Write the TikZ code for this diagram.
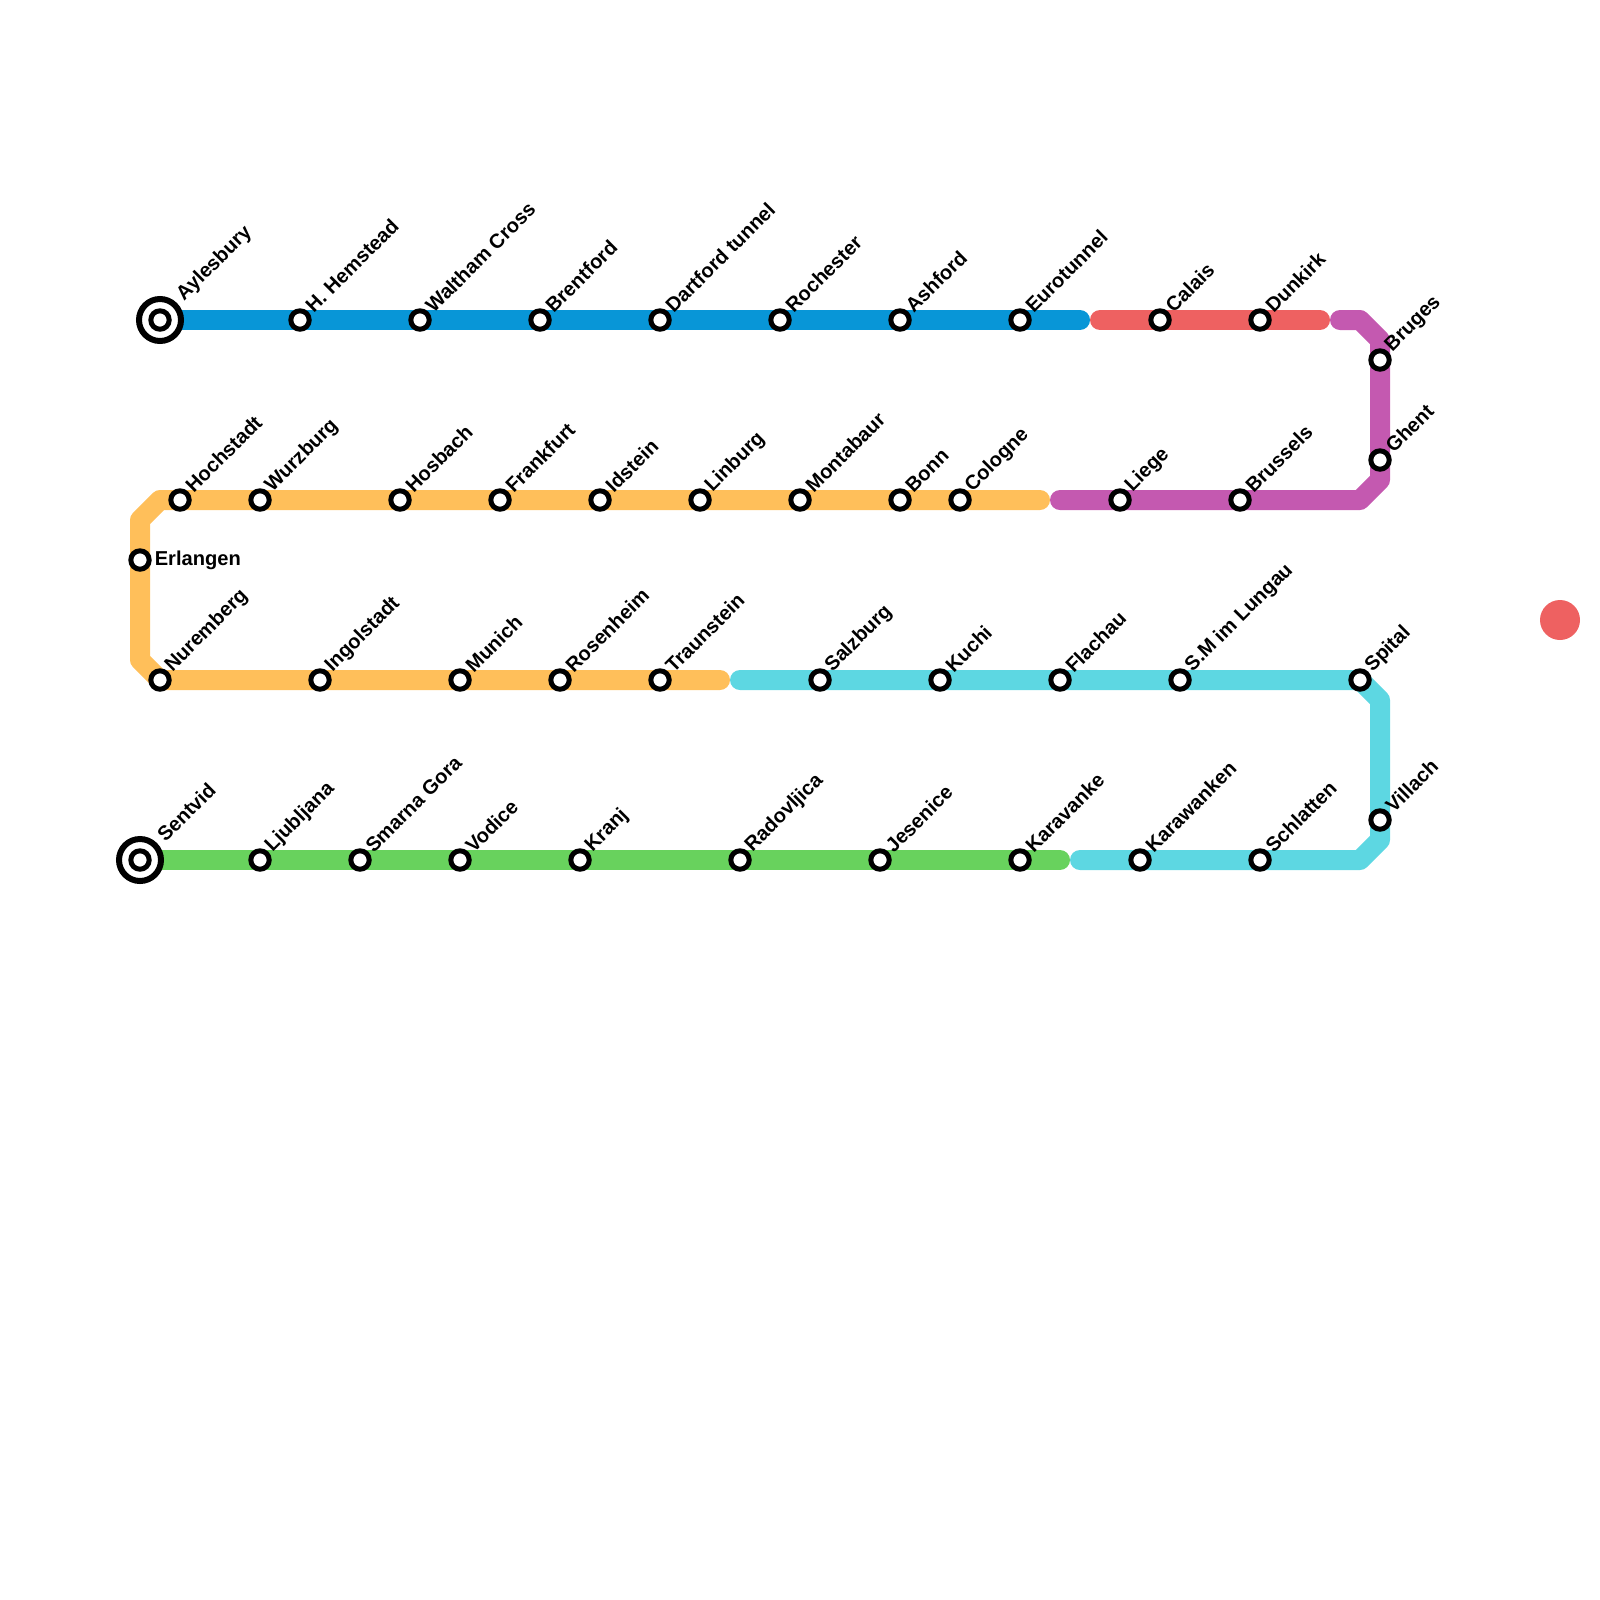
\documentclass[tikz,border=0pt]{standalone}
\usepackage{fontspec}
\setmainfont{Liberation Sans}
\usetikzlibrary{backgrounds}
\definecolor{lineblue}{HTML}{0896D7}
\definecolor{linered}{HTML}{EE6161}
\definecolor{linepurple}{HTML}{C459B0}
\definecolor{lineorange}{HTML}{FFBF5A}
\definecolor{linecyan}{HTML}{5DD7E2}
\definecolor{linegreen}{HTML}{68D25D}
\tikzset{
  route/.style={line width=2.5mm,line cap=round,line join=round},
  station/.style={circle,draw=black,fill=white,line width=0.625mm,minimum size=2.3mm,inner sep=0pt},
  terminus/.style={circle,draw=black,fill=white,line width=0.75mm,minimum size=5.25mm,inner sep=0pt},
  stationname/.style={rotate=45,anchor=west,inner sep=0pt,xshift=0.7pt,yshift=0.6pt,font=\fontsize{7.15}{8.6}\selectfont\bfseries},
  flatname/.style={anchor=west,inner sep=0pt,xshift=0.9pt,font=\fontsize{7.15}{8.6}\selectfont\bfseries}
}
\begin{document}
\begin{tikzpicture}[x=0.25cm,y=-0.25cm]
\useasboundingbox (0,0) rectangle (80,80);
% First row
\node[terminus,label={[stationname,xshift=1.3pt,yshift=-0.2pt]45:Aylesbury}] (aylesbury) at (8,16) {};
\node[station] (aylesburyhub) at (aylesbury) {};
\node[station,label={[stationname]45:H. Hemstead}] (hemstead) at (15,16) {};
\node[station,label={[stationname]45:Waltham Cross}] (waltham) at (21,16) {};
\node[station,label={[stationname]45:Brentford}] (brentford) at (27,16) {};
\node[station,label={[stationname]45:Dartford tunnel}] (dartford) at (33,16) {};
\node[station,label={[stationname]45:Rochester}] (rochester) at (39,16) {};
\node[station,label={[stationname]45:Ashford}] (ashford) at (45,16) {};
\node[station,label={[stationname]45:Eurotunnel}] (eurotunnel) at (51,16) {};
\node[station,label={[stationname]45:Calais}] (calais) at (58,16) {};
\node[station,label={[stationname]45:Dunkirk}] (dunkirk) at (63,16) {};
\node[station,label={[stationname]45:Bruges}] (bruges) at (69,18) {};
\node[station,label={[stationname]45:Ghent}] (ghent) at (69,23) {};
% Second row
\node[station,label={[stationname]45:Brussels}] (brussels) at (62,25) {};
\node[station,label={[stationname]45:Liege}] (liege) at (56,25) {};
\node[station,label={[stationname]45:Cologne}] (cologne) at (48,25) {};
\node[station,label={[stationname]45:Bonn}] (bonn) at (45,25) {};
\node[station,label={[stationname]45:Montabaur}] (montabaur) at (40,25) {};
\node[station,label={[stationname]45:Linburg}] (linburg) at (35,25) {};
\node[station,label={[stationname]45:Idstein}] (idstein) at (30,25) {};
\node[station,label={[stationname]45:Frankfurt}] (frankfurt) at (25,25) {};
\node[station,label={[stationname]45:Hosbach}] (hosbach) at (20,25) {};
\node[station,label={[stationname]45:Wurzburg}] (wurzburg) at (13,25) {};
\node[station,label={[stationname]45:Hochstadt}] (hochstadt) at (9,25) {};
\node[station,label={[flatname]0:Erlangen}] (erlangen) at (7,28) {};
% Third row
\node[station,label={[stationname]45:Nuremberg}] (nuremberg) at (8,34) {};
\node[station,label={[stationname]45:Ingolstadt}] (ingolstadt) at (16,34) {};
\node[station,label={[stationname]45:Munich}] (munich) at (23,34) {};
\node[station,label={[stationname]45:Rosenheim}] (rosenheim) at (28,34) {};
\node[station,label={[stationname]45:Traunstein}] (traunstein) at (33,34) {};
\node[station,label={[stationname]45:Salzburg}] (salzburg) at (41,34) {};
\node[station,label={[stationname]45:Kuchi}] (kuchi) at (47,34) {};
\node[station,label={[stationname]45:Flachau}] (flachau) at (53,34) {};
\node[station,label={[stationname]45:S.M im Lungau}] (lungau) at (59,34) {};
\node[station,label={[stationname]45:Spital}] (spital) at (68,34) {};
\node[station,label={[stationname]45:Villach}] (villach) at (69,41) {};
% Fourth row
\node[station,label={[stationname]45:Schlatten}] (schlatten) at (63,43) {};
\node[station,label={[stationname]45:Karawanken}] (karawanken) at (57,43) {};
\node[station,label={[stationname]45:Karavanke}] (karavanke) at (51,43) {};
\node[station,label={[stationname]45:Jesenice}] (jesenice) at (44,43) {};
\node[station,label={[stationname]45:Radovljica}] (radovljica) at (37,43) {};
\node[station,label={[stationname]45:Kranj}] (kranj) at (29,43) {};
\node[station,label={[stationname]45:Vodice}] (vodice) at (23,43) {};
\node[station,label={[stationname]45:Smarna Gora}] (smarna) at (18,43) {};
\node[station,label={[stationname]45:Ljubljana}] (ljubljana) at (13,43) {};
\node[terminus,label={[stationname,xshift=1.3pt,yshift=-0.2pt]45:Sentvid}] (sentvid) at (7,43) {};
\node[station] (sentvidhub) at (sentvid) {};
% Line ends and bends
\coordinate (blueend) at (54,16);
\coordinate (redstart) at (55,16);
\coordinate (redend) at (66,16);
\coordinate (purplestart) at (67,16);
\coordinate (purplebendA) at (68,16);
\coordinate (purplebendB) at (69,17);
\coordinate (purplebendC) at (69,24);
\coordinate (purplebendD) at (68,25);
\coordinate (purpleend) at (53,25);
\coordinate (orangeend) at (52,25);
\coordinate (orangebendA) at (8,25);
\coordinate (orangebendB) at (7,26);
\coordinate (orangebendC) at (7,33);
\coordinate (orangestop) at (36,34);
\coordinate (cyanstart) at (37,34);
\coordinate (cyanbendA) at (69,35);
\coordinate (cyanbendB) at (69,42);
\coordinate (cyanbendC) at (68,43);
\coordinate (cyanend) at (54,43);
\coordinate (greenend) at (53,43);
% Lines
\begin{pgfonlayer}{background}
\draw[route,lineblue] (aylesbury.center) -- (hemstead.center) -- (waltham.center) -- (brentford.center) -- (dartford.center) -- (rochester.center) -- (ashford.center) -- (eurotunnel.center) -- (blueend);
\draw[route,linered] (redstart) -- (calais.center) -- (dunkirk.center) -- (redend);
\draw[route,linepurple] (purplestart) -- (purplebendA) -- (purplebendB) -- (bruges.center) -- (ghent.center) -- (purplebendC) -- (purplebendD) -- (brussels.center) -- (liege.center) -- (purpleend);
\draw[route,lineorange] (orangeend) -- (cologne.center) -- (bonn.center) -- (montabaur.center) -- (linburg.center) -- (idstein.center) -- (frankfurt.center) -- (hosbach.center) -- (wurzburg.center) -- (hochstadt.center) -- (orangebendA) -- (orangebendB) -- (erlangen.center) -- (orangebendC) -- (nuremberg.center) -- (ingolstadt.center) -- (munich.center) -- (rosenheim.center) -- (traunstein.center) -- (orangestop);
\draw[route,linecyan] (cyanstart) -- (salzburg.center) -- (kuchi.center) -- (flachau.center) -- (lungau.center) -- (spital.center) -- (cyanbendA) -- (villach.center) -- (cyanbendB) -- (cyanbendC) -- (schlatten.center) -- (karawanken.center) -- (cyanend);
\draw[route,linegreen] (sentvid.center) -- (ljubljana.center) -- (smarna.center) -- (vodice.center) -- (kranj.center) -- (radovljica.center) -- (jesenice.center) -- (karavanke.center) -- (greenend);
\end{pgfonlayer}
% Loose dot
\node[circle,fill=linered,minimum size=5mm,inner sep=0pt] (reddot) at (78,31) {};
\end{tikzpicture}
\end{document}
